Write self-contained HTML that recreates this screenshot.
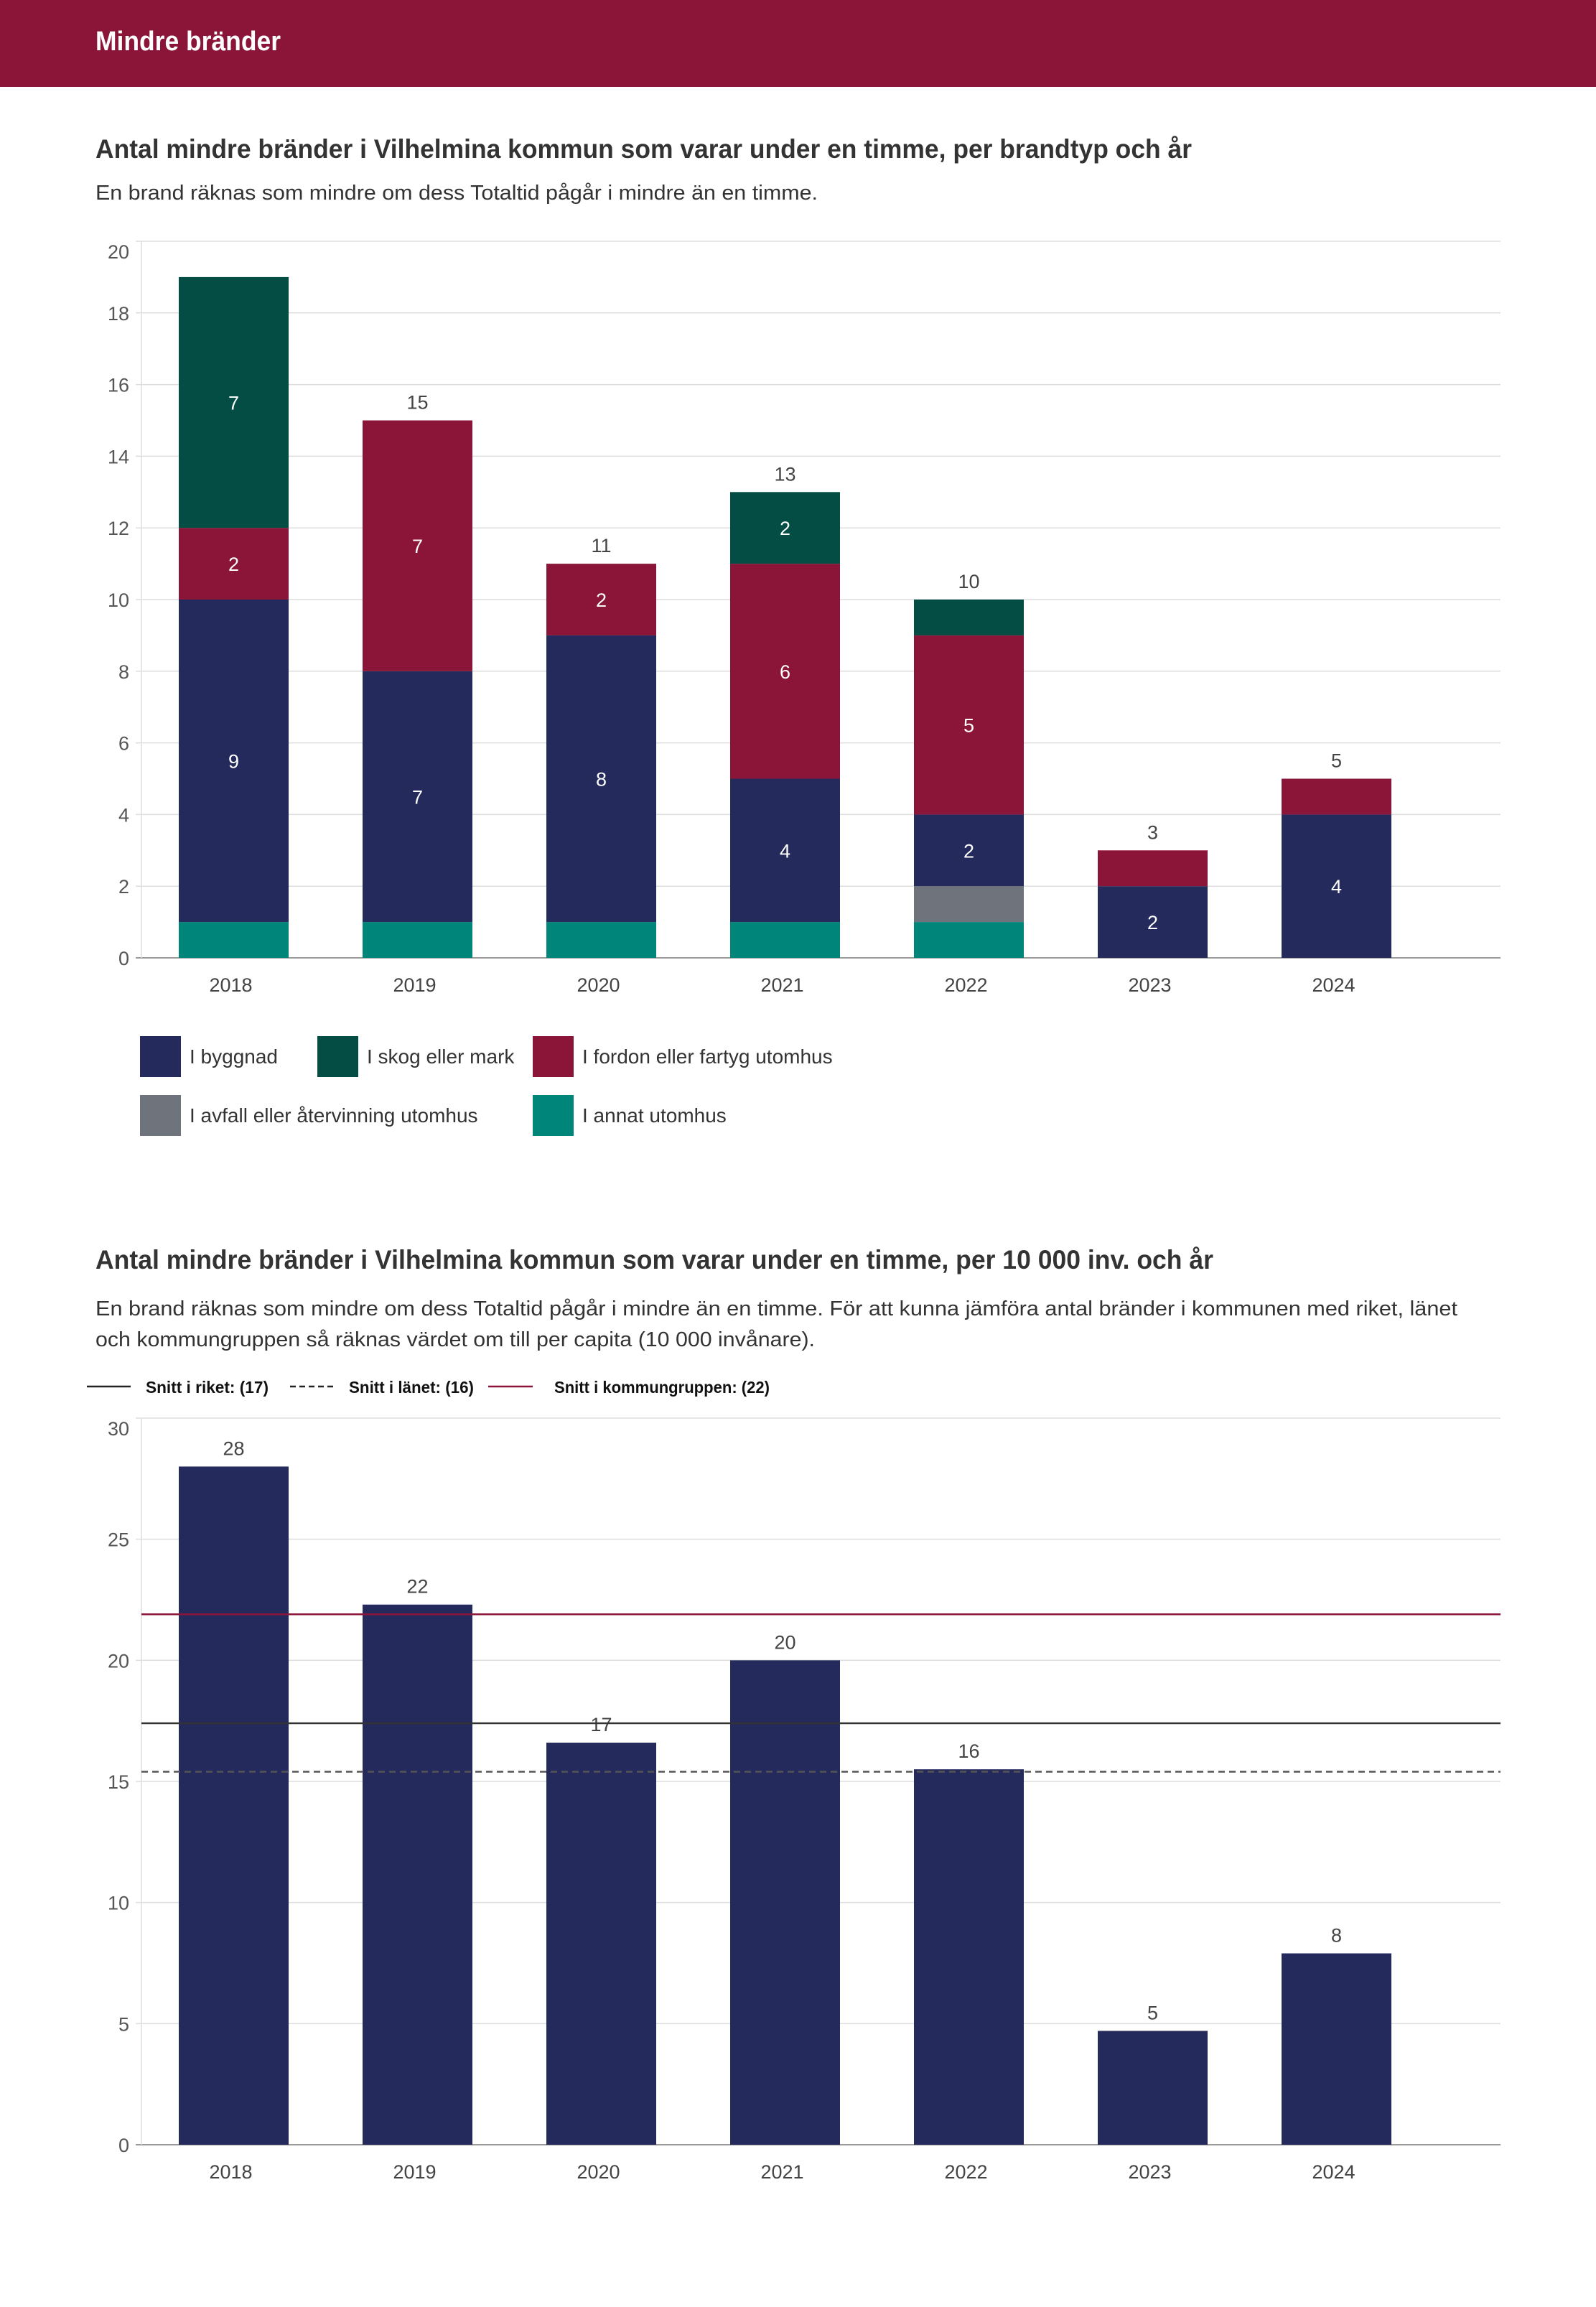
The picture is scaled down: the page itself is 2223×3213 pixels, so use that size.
<!DOCTYPE html>
<html><head><meta charset="utf-8">
<style>
html,body{margin:0;padding:0;background:#fff;}
svg{display:block;font-family:"Liberation Sans",sans-serif;}
</style></head>
<body>
<svg id="page" width="2223" height="3213" viewBox="0 0 2223 3213" xmlns="http://www.w3.org/2000/svg">
<rect x="0" y="0" width="2223" height="121" fill="#8b1538"/>
<text x="133" y="70" fill="#fff" font-size="38" font-weight="bold" textLength="258" lengthAdjust="spacingAndGlyphs">Mindre bränder</text>

<text x="133" y="220" fill="#333" font-size="37" font-weight="bold" textLength="1527" lengthAdjust="spacingAndGlyphs">Antal mindre bränder i Vilhelmina kommun som varar under en timme, per brandtyp och år</text>
<text x="133" y="278" fill="#333" font-size="29" textLength="1006" lengthAdjust="spacingAndGlyphs">En brand räknas som mindre om dess Totaltid pågår i mindre än en timme.</text>
<g id="chart1"></g>
<g id="legend1"></g>

<text x="133" y="1767" fill="#333" font-size="37" font-weight="bold" textLength="1557" lengthAdjust="spacingAndGlyphs">Antal mindre bränder i Vilhelmina kommun som varar under en timme, per 10 000 inv. och år</text>
<text x="133" y="1832" fill="#333" font-size="29" textLength="1897" lengthAdjust="spacingAndGlyphs">En brand räknas som mindre om dess Totaltid pågår i mindre än en timme. För att kunna jämföra antal bränder i kommunen med riket, länet</text>
<text x="133" y="1875" fill="#333" font-size="29" textLength="1002" lengthAdjust="spacingAndGlyphs">och kommungruppen så räknas värdet om till per capita (10 000 invånare).</text>
<g id="legend2">
  <line x1="121" y1="1931" x2="182" y2="1931" stroke="#222" stroke-width="2.5"/>
  <text x="203" y="1940" font-size="23" font-weight="bold" fill="#111" textLength="171" lengthAdjust="spacingAndGlyphs">Snitt i riket: (17)</text>
  <line x1="404" y1="1931" x2="465" y2="1931" stroke="#222" stroke-width="2.5" stroke-dasharray="8,5"/>
  <text x="486" y="1940" font-size="23" font-weight="bold" fill="#111" textLength="174" lengthAdjust="spacingAndGlyphs">Snitt i länet: (16)</text>
  <line x1="680" y1="1931" x2="742" y2="1931" stroke="#8b1538" stroke-width="2.5"/>
  <text x="772" y="1940" font-size="23" font-weight="bold" fill="#111" textLength="300" lengthAdjust="spacingAndGlyphs">Snitt i kommungruppen: (22)</text>
</g>
<g id="chart2"></g>
</svg>
<script>
const years = ["2018","2019","2020","2021","2022","2023","2024"];
const annat = [1,1,1,1,1,0,0];
const avfall = [0,0,0,0,1,0,0];
const byggnad = [9,7,8,4,2,2,4];
const fordon = [2,7,2,6,5,1,1];
const skog = [7,0,0,2,1,0,0];
const ticks1 = [0,2,4,6,8,10,12,14,16,18,20];
const perCapita = [28.0,22.3,16.6,20.0,15.5,4.7,7.9];
const perCapitaLabels = ["28","22","17","20","16","5","8"];
const ticks2 = [0,5,10,15,20,25,30];
const snittRiket = 17.4;
const snittLanet = 15.4;
const snittKommungrupp = 21.9;

const NS="http://www.w3.org/2000/svg";
function mk(parent,tag,attrs,text){const e=document.createElementNS(NS,tag);for(const k in attrs)e.setAttribute(k,attrs[k]);if(text!==undefined)e.textContent=text;parent.appendChild(e);return e;}

const xLeft=197, xRight=2090, bw=153;
function xc(i){return 325.5+256*i;}

// Chart 1
const c1=document.getElementById('chart1');
const y1=v=>1334-(1334-336)*v/20;
ticks1.forEach((t,k)=>{
  const g=mk(c1,'line',{x1:xLeft-8,x2:xRight,y1:y1(t),y2:y1(t),stroke:t===0?'#999':'#ddd','stroke-width':t===0?2:1.5});
  
  
  const off=(k===ticks1.length-1)?24:10;
  const l=mk(c1,'text',{x:180,y:y1(t)+off,'text-anchor':'end','font-size':27,fill:'#555'},String(t));
  
  
});
const ax=mk(c1,'line',{x1:xLeft,x2:xLeft,y1:336,y2:1334,stroke:'#ddd','stroke-width':1.5});


const series=[["annat",annat,"#00857a"],["avfall",avfall,"#6f747c"],["byggnad",byggnad,"#252a5c"],["fordon",fordon,"#8b1538"],["skog",skog,"#034d45"]];
years.forEach((yr,i)=>{
  let base=0;
  series.forEach(([nm,arr,col])=>{
    const v=arr[i]; if(!v) return;
    const r=mk(c1,'rect',{x:xc(i)-bw/2,y:y1(base+v),width:bw,height:y1(base)-y1(base+v),fill:col});
    
    
    if(v>=2){
      const t=mk(c1,'text',{x:xc(i),y:(y1(base)+y1(base+v))/2+10,'text-anchor':'middle','font-size':27,fill:'#fff'},String(v));
      
      
    }
    base+=v;
  });
  if(i>0){
    const t=mk(c1,'text',{x:xc(i),y:y1(base)-16,'text-anchor':'middle','font-size':27,fill:'#444'},String(base));
    
    
  }
  const xl=mk(c1,'text',{x:xc(i)-4,y:1381,'text-anchor':'middle','font-size':27,fill:'#444'},yr);
  
  
});

// Legend 1
const lg=document.getElementById('legend1');
const legItems=[["I byggnad","#252a5c",195,1443],["I skog eller mark","#034d45",442,1443],["I fordon eller fartyg utomhus","#8b1538",742,1443],["I avfall eller återvinning utomhus","#6f747c",195,1525],["I annat utomhus","#00857a",742,1525]];
legItems.forEach(([lab,col,x,y])=>{
  const s=mk(lg,'rect',{x:x,y:y,width:57,height:57,fill:col});
  
  
  const t=mk(lg,'text',{x:x+69,y:y+38,'font-size':28,fill:'#333'},lab);
  
  
});

// Chart 2
const c2=document.getElementById('chart2');
const y2=v=>2987-(2987-1975)*v/30;
ticks2.forEach((t,k)=>{
  const g=mk(c2,'line',{x1:xLeft-8,x2:xRight,y1:y2(t),y2:y2(t),stroke:t===0?'#999':'#ddd','stroke-width':t===0?2:1.5});
  
  
  const off=(k===ticks2.length-1)?24:10;
  const l=mk(c2,'text',{x:180,y:y2(t)+off,'text-anchor':'end','font-size':27,fill:'#555'},String(t));
  
  
});
const ax2=mk(c2,'line',{x1:xLeft,x2:xLeft,y1:1975,y2:2987,stroke:'#ddd','stroke-width':1.5});


years.forEach((yr,i)=>{
  const v=perCapita[i];
  const r=mk(c2,'rect',{x:xc(i)-bw/2,y:y2(v),width:bw,height:y2(0)-y2(v),fill:'#252a5c'});
  
  
  const t=mk(c2,'text',{x:xc(i),y:y2(v)-16,'text-anchor':'middle','font-size':27,fill:'#444'},perCapitaLabels[i]);
  
  
  const xl=mk(c2,'text',{x:xc(i)-4,y:3034,'text-anchor':'middle','font-size':27,fill:'#444'},yr);
  
  
});
const refs=[["riket-line",snittRiket,"#333",""],["lanet-line",snittLanet,"#555","9,6"],["kommungrupp-line",snittKommungrupp,"#8b1538",""]];
refs.forEach(([nm,v,col,da])=>{
  const a={x1:xLeft,x2:xRight,y1:y2(v),y2:y2(v),stroke:col,'stroke-width':2.5};
  if(da)a['stroke-dasharray']=da;
  const l=mk(c2,'line',a);
  
  
});
</script>
</body></html>
